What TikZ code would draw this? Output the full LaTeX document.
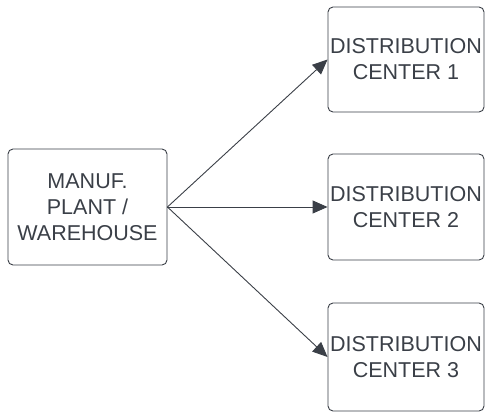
\documentclass[tikz,border=0pt]{standalone}
\usepackage{fontspec}
\setmainfont{Liberation Sans}
\usetikzlibrary{arrows.meta}
\definecolor{ink}{HTML}{3A3F47}

\begin{document}
\begin{tikzpicture}[x=1pt,y=1pt,
	box/.style={draw=ink, line width=0.9pt, rounded corners=5pt, align=center, text=ink, inner sep=0pt,
		font=\fontsize{21.5}{26}\selectfont},
	link/.style={draw=ink, line width=0.9pt, -{Triangle[length=15pt,width=13pt]}}]
\useasboundingbox (0,0) rectangle (486,415);

\node[box, minimum width=159, minimum height=116] (plant) at (87.5,208) {MANUF.\\PLANT /\\WAREHOUSE};
\node[box, minimum width=156, minimum height=105] (dc1) at (406,355.5) {DISTRIBUTION\\CENTER 1};
\node[box, minimum width=156, minimum height=106] (dc2) at (406,208) {DISTRIBUTION\\CENTER 2};
\node[box, minimum width=156, minimum height=108] (dc3) at (406,58) {DISTRIBUTION\\CENTER 3};

\draw[link] (plant.east) -- (dc1.west);
\draw[link] (plant.east) -- (dc2.west);
\draw[link] (plant.east) -- (dc3.west);
\end{tikzpicture}
\end{document}
